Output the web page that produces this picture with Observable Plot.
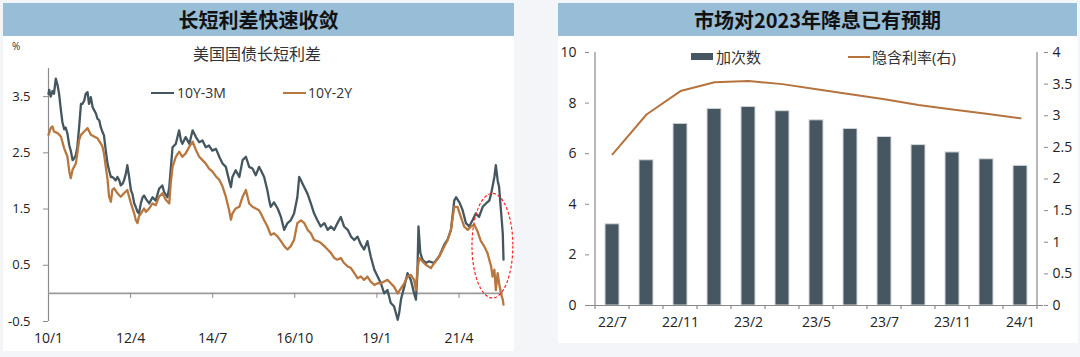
<!DOCTYPE html>
<html><head><meta charset="utf-8">
<script src="https://cdn.jsdelivr.net/npm/d3@7"></script>
<script src="https://cdn.jsdelivr.net/npm/@observablehq/plot@0.6"></script>
<style>
body{margin:0;width:1080px;height:357px;background:#f3f5f9;position:relative;overflow:hidden;font-family:"Open Sans","Noto Sans CJK SC",sans-serif;color:#222;}
.abs{position:absolute;}
.panel{position:absolute;background:#fff;}
.banner{position:absolute;background:#98bdd7;color:#111;font-weight:bold;font-size:20px;text-align:center;line-height:33px;font-family:"Noto Sans CJK SC",sans-serif;}
.leg{position:absolute;font-size:14px;line-height:16px;color:#333;white-space:nowrap;}
</style></head><body>
<div class="panel" style="left:3px;top:3px;width:511px;height:348px"></div>
<div class="panel" style="left:558px;top:3px;width:520px;height:340px"></div>
<div class="banner" style="left:3px;top:3px;width:511px;height:33px">长短利差快速收敛</div>
<div class="banner" style="left:558px;top:3px;width:519px;height:33px">市场对2023年降息已有预期</div>
<div class="abs" style="left:12px;top:39px;font-size:10px;color:#333">%</div>
<div class="abs" style="left:3px;top:43px;width:508px;text-align:center;font-size:16px;line-height:20px;color:#333;font-family:'Noto Sans CJK SC',sans-serif">美国国债长短利差</div>
<div id="left"></div>
<div id="right"></div>
<div id="legends"></div>
<script>
// ---------- data: left chart (US Treasury term spreads, %) ----------
const xTickValues = [2010, 2012.25, 2014.5, 2016.75, 2019, 2021.25];
const xTickLabels = ["10/1", "12/4", "14/7", "16/10", "19/1", "21/4"];
const yTicksLeft = [-0.5, 0.5, 1.5, 2.5, 3.5];
const seriesNames = ["10Y-3M", "10Y-2Y"];
const seriesColors = ["#44565f", "#b8773f"];

const spread10y3m = [
[2010.00,3.55],[2010.02,3.62],[2010.06,3.50],[2010.11,3.60],[2010.15,3.55],[2010.20,3.82],[2010.25,3.70],[2010.29,3.55],
[2010.34,3.26],[2010.38,3.05],[2010.43,2.92],[2010.47,2.95],[2010.52,2.84],[2010.57,2.63],[2010.61,2.54],[2010.66,2.37],
[2010.70,2.40],[2010.75,2.46],[2010.79,2.60],[2010.84,2.96],[2010.89,3.37],[2010.93,3.37],[2010.98,3.43],[2011.02,3.55],
[2011.07,3.58],[2011.11,3.37],[2011.16,3.49],[2011.21,3.31],[2011.25,3.26],[2011.30,3.20],[2011.34,3.11],[2011.39,3.08],
[2011.43,2.96],[2011.48,2.87],[2011.52,2.81],[2011.57,2.54],[2011.62,2.30],[2011.66,2.19],[2011.71,2.07],[2011.75,2.07],
[2011.80,2.04],[2011.84,2.01],[2011.89,2.07],[2011.94,2.01],[2011.98,1.92],[2012.03,1.95],[2012.07,2.01],[2012.12,2.13],
[2012.16,2.28],[2012.21,2.07],[2012.26,1.83],[2012.30,1.77],[2012.35,1.60],[2012.39,1.54],[2012.44,1.45],[2012.48,1.42],
[2012.53,1.60],[2012.58,1.71],[2012.62,1.74],[2012.67,1.68],[2012.76,1.60],[2012.85,1.71],[2012.94,1.65],[2013.03,1.86],
[2013.12,1.92],[2013.17,1.80],[2013.26,1.71],[2013.31,1.89],[2013.40,2.60],[2013.49,2.66],[2013.58,2.90],[2013.63,2.72],
[2013.67,2.66],[2013.76,2.78],[2013.86,2.66],[2013.95,2.90],[2014.04,2.78],[2014.13,2.69],[2014.22,2.72],[2014.31,2.60],
[2014.40,2.63],[2014.49,2.54],[2014.59,2.57],[2014.68,2.43],[2014.77,2.31],[2014.86,2.25],[2014.95,2.01],[2015.00,1.89],
[2015.04,2.07],[2015.13,2.19],[2015.23,2.07],[2015.32,2.37],[2015.41,2.43],[2015.50,2.25],[2015.59,2.22],[2015.68,2.10],
[2015.77,2.25],[2015.82,2.19],[2015.91,2.07],[2016.00,1.83],[2016.05,1.65],[2016.09,1.54],[2016.18,1.62],[2016.28,1.51],
[2016.37,1.36],[2016.46,1.13],[2016.55,1.25],[2016.64,1.30],[2016.73,1.42],[2016.82,1.71],[2016.87,2.07],[2016.92,2.01],
[2017.01,1.89],[2017.10,1.77],[2017.19,1.60],[2017.28,1.42],[2017.37,1.30],[2017.46,1.19],[2017.56,1.25],[2017.65,1.13],
[2017.74,1.19],[2017.83,1.13],[2017.92,1.25],[2018.01,1.36],[2018.10,1.19],[2018.20,1.13],[2018.29,1.01],[2018.38,0.95],
[2018.47,1.01],[2018.56,0.87],[2018.65,0.78],[2018.74,0.93],[2018.83,0.66],[2018.93,0.42],[2019.02,0.30],[2019.11,0.18],
[2019.20,0.00],[2019.29,0.06],[2019.38,-0.17],[2019.47,-0.23],[2019.57,-0.47],[2019.61,-0.35],[2019.66,-0.11],[2019.75,0.12],
[2019.84,0.36],[2019.93,0.24],[2020.02,0.00],[2020.07,-0.11],[2020.11,0.36],[2020.14,1.19],[2020.19,0.72],[2020.25,0.60],
[2020.34,0.54],[2020.43,0.57],[2020.57,0.54],[2020.71,0.66],[2020.85,0.87],[2020.94,0.96],[2021.03,1.13],[2021.12,1.65],
[2021.17,1.71],[2021.26,1.62],[2021.35,1.48],[2021.44,1.25],[2021.53,1.19],[2021.62,1.30],[2021.71,1.42],[2021.80,1.36],
[2021.90,1.54],[2021.99,1.60],[2022.08,1.65],[2022.13,1.77],[2022.22,2.07],[2022.26,2.28],[2022.31,2.01],[2022.35,1.89],
[2022.40,1.48],[2022.45,1.07],[2022.47,0.60]
];

const spread10y2y = [
[2010.00,2.82],[2010.06,2.94],[2010.11,2.97],[2010.15,2.88],[2010.25,2.85],[2010.34,2.79],[2010.43,2.58],[2010.52,2.43],
[2010.57,2.17],[2010.61,2.05],[2010.66,2.20],[2010.70,2.25],[2010.75,2.31],[2010.79,2.49],[2010.84,2.73],[2010.89,2.82],
[2010.98,2.88],[2011.07,2.94],[2011.16,2.82],[2011.25,2.79],[2011.34,2.76],[2011.43,2.67],[2011.48,2.61],[2011.52,2.49],
[2011.57,2.25],[2011.62,2.02],[2011.66,1.72],[2011.71,1.63],[2011.75,1.84],[2011.80,1.87],[2011.89,1.78],[2011.98,1.72],
[2012.07,1.78],[2012.16,1.84],[2012.21,1.72],[2012.26,1.60],[2012.35,1.42],[2012.39,1.31],[2012.44,1.25],[2012.48,1.37],
[2012.53,1.42],[2012.62,1.51],[2012.67,1.45],[2012.76,1.51],[2012.85,1.60],[2012.94,1.57],[2013.03,1.72],[2013.12,1.78],
[2013.22,1.66],[2013.31,1.60],[2013.35,1.96],[2013.40,2.25],[2013.49,2.43],[2013.58,2.52],[2013.67,2.43],[2013.76,2.49],
[2013.86,2.61],[2013.95,2.70],[2014.04,2.55],[2014.13,2.43],[2014.22,2.37],[2014.31,2.31],[2014.40,2.22],[2014.49,2.17],
[2014.59,2.08],[2014.68,2.02],[2014.77,1.90],[2014.86,1.72],[2014.95,1.48],[2015.00,1.31],[2015.04,1.42],[2015.13,1.51],
[2015.23,1.54],[2015.32,1.72],[2015.41,1.84],[2015.50,1.60],[2015.59,1.54],[2015.68,1.51],[2015.77,1.48],[2015.82,1.42],
[2015.91,1.30],[2016.00,1.19],[2016.09,1.04],[2016.18,1.07],[2016.28,1.01],[2016.37,0.93],[2016.46,0.84],[2016.55,0.78],
[2016.64,0.84],[2016.73,0.95],[2016.82,1.25],[2016.92,1.30],[2017.01,1.25],[2017.10,1.13],[2017.19,1.07],[2017.28,0.95],
[2017.37,0.93],[2017.46,0.90],[2017.56,0.84],[2017.65,0.78],[2017.74,0.72],[2017.83,0.63],[2017.92,0.60],[2018.01,0.63],
[2018.10,0.54],[2018.20,0.48],[2018.29,0.45],[2018.38,0.36],[2018.47,0.27],[2018.56,0.30],[2018.65,0.24],[2018.74,0.30],
[2018.83,0.21],[2018.93,0.15],[2019.02,0.18],[2019.11,0.18],[2019.20,0.21],[2019.29,0.24],[2019.38,0.18],[2019.47,0.12],
[2019.57,0.00],[2019.66,0.09],[2019.75,0.18],[2019.84,0.30],[2019.93,0.33],[2020.02,0.24],[2020.07,0.06],[2020.11,0.42],
[2020.16,0.63],[2020.25,0.57],[2020.34,0.51],[2020.48,0.45],[2020.57,0.54],[2020.71,0.66],[2020.85,0.84],[2020.94,0.95],
[2021.03,1.13],[2021.12,1.54],[2021.21,1.54],[2021.30,1.36],[2021.39,1.19],[2021.49,1.13],[2021.58,1.19],[2021.67,1.22],
[2021.76,1.10],[2021.85,0.93],[2021.94,0.84],[2022.03,0.72],[2022.13,0.48],[2022.17,0.30],[2022.22,0.42],[2022.26,0.06],
[2022.31,0.36],[2022.35,0.18],[2022.40,0.00],[2022.45,-0.11],[2022.47,-0.20]
];

// red dashed highlight ellipse (data units: centre and half-extent)
const ellipseCenter = [2022.18, 0.84];
const ellipseHalf = [0.56, 0.93];

// ---------- data: right chart ----------
const meetings = ["22/7","22/9","22/11","22/12","23/2","23/3","23/5","23/6","23/7","23/9","23/11","23/12","24/1"];
const hikeCounts = [3.21,5.74,7.18,7.77,7.85,7.68,7.32,6.98,6.66,6.34,6.05,5.78,5.52];
const impliedRate = [2.39,3.02,3.39,3.53,3.55,3.50,3.42,3.34,3.26,3.17,3.10,3.03,2.96];
const rightSeriesNames = ["加次数", "隐含利率(右)"];
const rightColors = ["#465761", "#b5733f"];
const leftAxisTicks = [0,2,4,6,8,10];
const rightAxisTicks = [0,0.5,1,1.5,2,2.5,3,3.5,4];

const FONT = '"Open Sans","Noto Sans CJK SC",sans-serif';
const AXIS = "#8a8a8a";

// ---------- left chart ----------
const d3m = spread10y3m.map(([t, v]) => ({t, v}));
const d2y = spread10y2y.map(([t, v]) => ({t, v}));
const left = Plot.plot({
  width: 520, height: 357,
  marginLeft: 48, marginRight: 17, marginTop: 68, marginBottom: 36,
  style: {background: "transparent", fontFamily: FONT, color: "#222", fontSize: "13px", overflow: "visible"},
  x: {domain: [xTickValues[0], spread10y3m[spread10y3m.length - 1][0]], label: null},
  y: {domain: [-0.5, 4], label: null},
  marks: [
    Plot.ruleX([xTickValues[0]], {stroke: AXIS, strokeWidth: 1.2}),
    Plot.ruleY([0], {stroke: "#9a9a9a", strokeWidth: 1.6}),
    Plot.ruleX(xTickValues.slice(1), {y1: 0, y2: 0, insetBottom: -5, stroke: AXIS}),
    Plot.axisY(yTicksLeft, {tickSize: 5, tickPadding: 13, fontSize: 13, stroke: AXIS, fill: "#222", label: null, tickFormat: d => String(d)}),
    Plot.axisX(xTickValues, {tickSize: 0, tickPadding: 12, fontSize: 14, fill: "#222", label: null, tickFormat: d => xTickLabels[xTickValues.indexOf(d)]}),
    Plot.line(d3m, {x: "t", y: "v", stroke: seriesColors[0], strokeWidth: 2.3, strokeLinejoin: "round"}),
    Plot.line(d2y, {x: "t", y: "v", stroke: seriesColors[1], strokeWidth: 2.3, strokeLinejoin: "round"})
  ]
});
left.style.position = "absolute"; left.style.left = "0px"; left.style.top = "0px";
document.getElementById("left").appendChild(left);
{
  const sx = left.scale("x"), sy = left.scale("y");
  const cx = sx.apply(ellipseCenter[0]), cy = sy.apply(ellipseCenter[1]);
  const rx = sx.apply(ellipseCenter[0] + ellipseHalf[0]) - cx;
  const ry = sy.apply(ellipseCenter[1] - ellipseHalf[1]) - cy;
  d3.select(left).append("ellipse")
    .attr("cx", cx).attr("cy", cy).attr("rx", rx).attr("ry", ry)
    .attr("fill", "none").attr("stroke", "#ff2020").attr("stroke-width", 1.2)
    .attr("stroke-dasharray", "3,2");
}

// ---------- right chart ----------
const barData = meetings.map((m, i) => ({m, n: hikeCounts[i]}));
const lineData = meetings.map((m, i) => ({m, r: impliedRate[i]}));
const common = {
  width: 540, height: 357,
  marginLeft: 49, marginRight: 37, marginTop: 52, marginBottom: 52,
  style: {background: "transparent", fontFamily: FONT, color: "#222", fontSize: "14px", overflow: "visible"}
};
const bars = Plot.plot({
  ...common,
  x: {domain: meetings, paddingInner: 0.6, paddingOuter: 0.3, label: null},
  y: {domain: [0, 10], label: null},
  marks: [
    Plot.barY(barData, {x: "m", y: "n", fill: rightColors[0], stroke: "#d5d9dc", strokeWidth: 1}),
    Plot.ruleY([0], {stroke: AXIS, strokeWidth: 1.2}),
    Plot.axisY(leftAxisTicks, {tickSize: 4, tickPadding: 9, fontSize: 14, stroke: AXIS, fill: "#222", label: null}),
    Plot.axisX(meetings.filter((d, i) => i % 2 === 0), {tickSize: 0, tickPadding: 12, fontSize: 14, fill: "#222", label: null})
  ]
});
const line = Plot.plot({
  ...common,
  x: {domain: meetings, paddingInner: 0.6, paddingOuter: 0.3, axis: null, label: null},
  y: {domain: [0, 4], label: null},
  marks: [
    Plot.line(lineData, {x: "m", y: "r", stroke: rightColors[1], strokeWidth: 2}),
    Plot.axisY(rightAxisTicks, {anchor: "right", tickSize: 4, tickPadding: 5, fontSize: 14, stroke: AXIS, fill: "#222", label: null, tickFormat: d => String(d)})
  ]
});
for (const s of [bars, line]) {
  s.style.position = "absolute"; s.style.left = "540px"; s.style.top = "0px";
  document.getElementById("right").appendChild(s);
}
{
  const bx = bars.scale("x"), by = bars.scale("y");
  const step = bx.apply(meetings[1]) - bx.apply(meetings[0]);
  const bw = bx.bandwidth;
  const y0 = by.apply(0), yTop = by.apply(10);
  const xs = meetings.map(m => bx.apply(m) - (step - bw) / 2);
  xs.push(bx.apply(meetings[meetings.length - 1]) + bw + (step - bw) / 2);
  const g = d3.select(bars).append("g").attr("stroke", AXIS).attr("stroke-width", 1.2);
  xs.forEach(x => g.append("line").attr("x1", x).attr("x2", x).attr("y1", y0).attr("y2", y0 + 4));
  g.append("line").attr("x1", xs[0]).attr("x2", xs[0]).attr("y1", yTop).attr("y2", y0);
  g.append("line").attr("x1", xs[xs.length - 1]).attr("x2", xs[xs.length - 1]).attr("y1", yTop).attr("y2", y0);
}

// ---------- legends ----------
const L = document.getElementById("legends");
function add(html) { L.insertAdjacentHTML("beforeend", html); }
add(`<div class="abs" style="left:151px;top:92px;width:23px;height:2px;background:${seriesColors[0]}"></div>`);
add(`<div class="leg" style="left:177px;top:85px">${seriesNames[0]}</div>`);
add(`<div class="abs" style="left:283px;top:92px;width:23px;height:2px;background:${seriesColors[1]}"></div>`);
add(`<div class="leg" style="left:308px;top:85px">${seriesNames[1]}</div>`);
add(`<div class="abs" style="left:691px;top:53px;width:22px;height:7px;background:${rightColors[0]}"></div>`);
add(`<div class="leg" style="left:716px;top:48px;font-size:15px;line-height:18px">${rightSeriesNames[0]}</div>`);
add(`<div class="abs" style="left:848px;top:56px;width:22px;height:2px;background:${rightColors[1]}"></div>`);
add(`<div class="leg" style="left:872px;top:48px;font-size:15px;line-height:18px">${rightSeriesNames[1]}</div>`);
</script>
</body></html>
